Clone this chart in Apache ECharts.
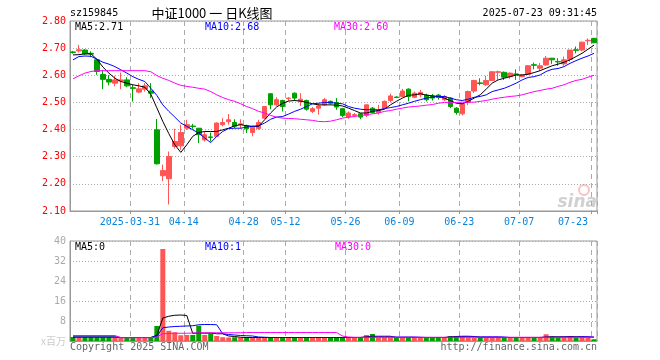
<!DOCTYPE html>
<html>
<head>
<meta charset="utf-8">
<script src="https://cdn.jsdelivr.net/npm/echarts@6/dist/echarts.min.js"></script>
<style>
html,body{margin:0;padding:0;background:#fff;}
#c{width:660px;height:360px;}
</style>
</head>
<body>
<div id="c"></div>
<script>
// ---- data ----
const dates = ['2025-03-17','2025-03-18','2025-03-19','2025-03-20','2025-03-21','2025-03-24','2025-03-25','2025-03-26','2025-03-27','2025-03-28',
'2025-03-31','2025-04-01','2025-04-02','2025-04-03','2025-04-07','2025-04-08','2025-04-09','2025-04-10','2025-04-11','2025-04-14',
'2025-04-15','2025-04-16','2025-04-17','2025-04-18','2025-04-21','2025-04-22','2025-04-23','2025-04-24','2025-04-25','2025-04-28',
'2025-04-29','2025-04-30','2025-05-06','2025-05-07','2025-05-08','2025-05-09','2025-05-12','2025-05-13','2025-05-14','2025-05-15',
'2025-05-16','2025-05-19','2025-05-20','2025-05-21','2025-05-22','2025-05-23','2025-05-26','2025-05-27','2025-05-28','2025-05-29',
'2025-05-30','2025-06-03','2025-06-04','2025-06-05','2025-06-06','2025-06-09','2025-06-10','2025-06-11','2025-06-12','2025-06-13',
'2025-06-16','2025-06-17','2025-06-18','2025-06-19','2025-06-20','2025-06-23','2025-06-24','2025-06-25','2025-06-26','2025-06-27',
'2025-06-30','2025-07-01','2025-07-02','2025-07-03','2025-07-04','2025-07-07','2025-07-08','2025-07-09','2025-07-10','2025-07-11',
'2025-07-14','2025-07-15','2025-07-16','2025-07-17','2025-07-18','2025-07-21','2025-07-22','2025-07-23'];

const tickDates  = ['2025-03-31','2025-04-14','2025-04-28','2025-05-12','2025-05-26','2025-06-09','2025-06-23','2025-07-07','2025-07-23'];
const tickLabels = ['2025-03-31','04-14','04-28','05-12','05-26','06-09','06-23','07-07','07-23'];

const opens = [2.686,2.690,2.693,2.681,2.657,2.603,2.585,2.571,2.579,2.583,
2.554,2.538,2.549,2.542,2.399,2.230,2.219,2.338,2.340,2.405,
2.413,2.405,2.362,2.373,2.375,2.418,2.429,2.426,2.418,2.414,
2.389,2.404,2.442,2.532,2.491,2.507,2.514,2.534,2.504,2.507,
2.467,2.479,2.491,2.504,2.500,2.477,2.446,2.452,2.458,2.452,
2.479,2.463,2.479,2.507,2.520,2.522,2.549,2.519,2.528,2.527,
2.524,2.527,2.510,2.516,2.479,2.458,2.500,2.542,2.572,2.565,
2.581,2.611,2.611,2.595,2.605,2.595,2.604,2.639,2.626,2.638,
2.663,2.651,2.642,2.659,2.694,2.693,2.727,2.736];
const closes = [2.684,2.694,2.679,2.678,2.614,2.585,2.575,2.583,2.583,2.561,
2.552,2.550,2.561,2.534,2.274,2.249,2.301,2.356,2.389,2.418,
2.411,2.381,2.381,2.371,2.424,2.426,2.436,2.412,2.421,2.403,
2.409,2.426,2.485,2.491,2.510,2.485,2.516,2.516,2.512,2.475,
2.477,2.487,2.510,2.497,2.483,2.452,2.461,2.455,2.446,2.491,
2.463,2.470,2.504,2.524,2.518,2.542,2.522,2.534,2.537,2.510,
2.516,2.518,2.522,2.485,2.463,2.495,2.540,2.581,2.570,2.581,
2.613,2.613,2.593,2.608,2.603,2.601,2.635,2.637,2.635,2.663,
2.657,2.649,2.657,2.693,2.692,2.722,2.729,2.720];
const lows = [2.680,2.684,2.675,2.667,2.602,2.549,2.563,2.559,2.549,2.556,
2.503,2.534,2.540,2.516,2.271,2.210,2.124,2.330,2.326,2.399,
2.403,2.350,2.356,2.356,2.372,2.412,2.418,2.405,2.403,2.387,
2.375,2.399,2.440,2.475,2.487,2.467,2.505,2.505,2.487,2.470,
2.461,2.455,2.487,2.492,2.473,2.446,2.440,2.446,2.438,2.446,
2.458,2.455,2.477,2.500,2.516,2.519,2.504,2.516,2.519,2.504,
2.507,2.510,2.505,2.479,2.455,2.452,2.490,2.535,2.563,2.561,
2.579,2.583,2.583,2.587,2.583,2.593,2.601,2.622,2.617,2.635,
2.642,2.635,2.635,2.650,2.681,2.688,2.712,2.718];
const highs = [2.690,2.712,2.696,2.688,2.659,2.620,2.601,2.598,2.610,2.593,
2.565,2.571,2.571,2.571,2.439,2.271,2.319,2.403,2.418,2.436,
2.421,2.405,2.393,2.389,2.426,2.442,2.457,2.438,2.438,2.418,
2.414,2.436,2.487,2.534,2.519,2.510,2.519,2.537,2.534,2.510,
2.483,2.497,2.516,2.507,2.516,2.479,2.467,2.461,2.461,2.492,
2.483,2.491,2.507,2.532,2.522,2.550,2.552,2.540,2.546,2.532,
2.531,2.531,2.527,2.519,2.483,2.497,2.544,2.583,2.589,2.598,
2.615,2.617,2.614,2.610,2.622,2.604,2.638,2.647,2.645,2.671,
2.663,2.663,2.669,2.693,2.706,2.724,2.736,2.738];

const ma5 = [2.675,2.676,2.679,2.679,2.659,2.630,2.608,2.589,2.577,2.571,
2.565,2.561,2.556,2.530,2.480,2.430,2.385,2.344,2.316,2.344,
2.375,2.389,2.393,2.393,2.393,2.399,2.405,2.414,2.418,2.414,
2.412,2.412,2.436,2.461,2.483,2.497,2.505,2.507,2.505,2.500,
2.495,2.491,2.491,2.491,2.490,2.487,2.479,2.470,2.461,2.461,
2.467,2.470,2.475,2.491,2.504,2.516,2.526,2.528,2.532,2.527,
2.524,2.522,2.516,2.507,2.497,2.495,2.504,2.516,2.528,2.549,
2.571,2.583,2.589,2.595,2.601,2.601,2.604,2.610,2.617,2.626,
2.635,2.641,2.648,2.657,2.669,2.681,2.696,2.711];
const ma10 = [2.657,2.669,2.671,2.670,2.659,2.648,2.641,2.632,2.620,2.608,
2.595,2.585,2.577,2.552,2.526,2.491,2.467,2.446,2.424,2.412,
2.399,2.387,2.369,2.352,2.375,2.393,2.404,2.405,2.405,2.409,
2.412,2.414,2.424,2.438,2.446,2.448,2.457,2.467,2.475,2.485,
2.495,2.497,2.500,2.500,2.497,2.495,2.485,2.479,2.475,2.473,
2.473,2.473,2.477,2.481,2.485,2.491,2.497,2.504,2.510,2.516,
2.519,2.522,2.522,2.516,2.510,2.507,2.512,2.519,2.522,2.528,
2.540,2.546,2.552,2.561,2.571,2.583,2.592,2.595,2.601,2.614,
2.622,2.625,2.632,2.644,2.654,2.663,2.671,2.681];
const ma30 = [2.587,2.598,2.608,2.614,2.617,2.617,2.617,2.617,2.617,2.617,
2.617,2.617,2.617,2.613,2.599,2.589,2.581,2.571,2.563,2.559,
2.556,2.552,2.549,2.540,2.528,2.518,2.510,2.504,2.495,2.485,
2.477,2.467,2.461,2.452,2.446,2.442,2.441,2.440,2.438,2.436,
2.434,2.430,2.429,2.431,2.436,2.442,2.446,2.448,2.452,2.455,
2.458,2.461,2.467,2.470,2.475,2.479,2.483,2.485,2.487,2.490,
2.492,2.497,2.500,2.500,2.500,2.501,2.501,2.501,2.504,2.507,
2.512,2.516,2.519,2.522,2.524,2.528,2.534,2.540,2.544,2.549,
2.552,2.559,2.565,2.574,2.581,2.585,2.593,2.600];

const volumes = [1.6,1.5,1.5,1.5,1.5,1.5,1.5,1.4,1.4,1.4,
1.3,1.3,1.3,1.4,6.0,36.8,4.1,3.5,2.3,2.4,
2.4,6.1,2.4,3.0,2.0,1.5,1.4,1.5,1.4,1.5,
1.4,1.3,1.4,1.5,1.4,1.3,1.4,1.3,1.4,1.3,
1.3,1.4,1.3,1.3,1.4,1.3,1.3,1.4,1.3,2.4,
2.8,1.3,1.4,1.3,1.3,1.4,1.3,1.3,1.4,1.3,
1.3,1.4,1.3,2.0,2.0,2.0,1.4,1.3,1.3,1.4,
1.3,1.3,1.4,1.3,1.3,1.4,1.3,1.3,1.4,2.7,
1.9,1.3,1.4,1.9,1.3,1.9,1.3,0.7];
const vma5 = [1.6,1.6,1.6,1.6,1.6,1.6,1.6,1.6,1.4,1.4,
1.4,1.4,1.4,1.4,2.3,9.2,9.9,10.3,10.4,10.2,
3.0,3.3,3.1,3.2,2.9,2.9,2.0,1.8,1.5,1.4,
1.4,1.4,1.4,1.4,1.4,1.4,1.4,1.4,1.4,1.4,
1.4,1.4,1.4,1.4,1.4,1.4,1.4,1.4,1.4,1.7,
1.9,1.9,1.9,1.9,1.4,1.4,1.4,1.4,1.4,1.4,
1.4,1.4,1.4,1.6,1.8,1.9,1.9,1.8,1.4,1.4,
1.4,1.4,1.4,1.4,1.4,1.4,1.4,1.4,1.4,1.6,
1.7,1.7,1.7,1.8,1.7,1.7,1.6,1.4];
const vma10 = [1.6,1.6,1.6,1.6,1.6,1.6,1.6,1.6,1.4,1.4,
1.4,1.4,1.4,1.4,1.9,5.3,5.6,5.8,5.9,6.0,
6.1,6.5,6.6,6.6,6.5,2.9,2.6,2.4,2.2,2.1,
2.0,1.6,1.5,1.4,1.4,1.4,1.4,1.4,1.4,1.4,
1.4,1.4,1.4,1.4,1.4,1.4,1.4,1.4,1.4,1.5,
1.6,1.6,1.6,1.6,1.6,1.6,1.6,1.6,1.5,1.4,
1.4,1.4,1.4,1.5,1.6,1.7,1.7,1.7,1.7,1.7,
1.7,1.7,1.6,1.4,1.4,1.4,1.4,1.4,1.4,1.5,
1.5,1.5,1.6,1.6,1.6,1.7,1.7,1.6];
const vma30 = [2.2,2.2,2.2,2.2,2.2,2.2,2.2,2.2,1.3,1.3,
1.3,1.3,1.3,1.3,1.6,2.9,3.0,3.1,3.1,3.1,
3.2,3.3,3.3,3.3,3.3,3.3,3.3,3.3,3.3,3.4,
3.4,3.4,3.4,3.4,3.4,3.4,3.4,3.4,3.4,3.4,
3.4,3.4,3.4,3.4,3.4,2.0,1.6,1.5,1.5,1.5,
1.5,1.5,1.5,1.5,1.5,1.5,1.5,1.5,1.5,1.5,
1.5,1.5,1.5,1.5,1.5,1.5,1.5,1.5,1.5,1.5,
1.5,1.5,1.5,1.5,1.5,1.5,1.5,1.5,1.5,1.5,
1.5,1.5,1.5,1.5,1.5,1.5,1.5,1.5];

// ---- chart ----
const RED = '#ff5555', GREEN = '#00a000';
const MONO = '"DejaVu Sans Mono", "Liberation Mono", monospace';
const candles = dates.map((d, i) => [opens[i], closes[i], lows[i], highs[i]]);
const volData = volumes.map((v, i) => ({value: v, itemStyle: {color: closes[i] >= opens[i] ? RED : GREEN}}));
const isTick = (idx, val) => tickDates.indexOf(val) >= 0;
const grids = [
  {left: 70, top: 21, width: 527, height: 190},
  {left: 70, top: 241, width: 527, height: 100}
];
const chart = echarts.init(document.getElementById('c'), null, {renderer: 'canvas'});

function xAx(gi, showLabel) {
  return {
    type: 'category', gridIndex: gi, data: dates, boundaryGap: true,
    axisLine: {show: true, lineStyle: {color: '#999', width: 1}},
    axisTick: {show: showLabel, interval: isTick, length: 3, lineStyle: {color: '#999'}},
    axisLabel: {
      show: showLabel, interval: isTick, color: '#0a84dc', fontFamily: MONO, fontSize: 10, margin: 6,
      padding: [0, 6, 0, 0], alignMaxLabel: 'right',
      formatter: v => { const k = tickDates.indexOf(v); return k >= 0 ? tickLabels[k] : ''; }
    },
    splitLine: {show: true, interval: isTick, lineStyle: {color: '#aaa', type: [5, 4], width: 1}}
  };
}

const option = {
  animation: false,
  backgroundColor: '#fff',
  grid: grids.map(g => Object.assign({show: true, borderColor: '#999', borderWidth: 1, backgroundColor: 'transparent'}, g)),
  xAxis: [xAx(0, true), xAx(1, false)],
  yAxis: [
    {type: 'value', gridIndex: 0, min: 2.1, max: 2.8, interval: 0.1, scale: true,
     axisLine: {show: true, lineStyle: {color: '#999'}}, axisTick: {show: false},
     axisLabel: {color: '#f00', fontFamily: MONO, fontSize: 10, margin: 4, formatter: v => v.toFixed(2)},
     splitLine: {show: true, lineStyle: {color: '#aaa', type: [1, 2], width: 1}}},
    {type: 'value', gridIndex: 1, min: 0, max: 40, interval: 8,
     axisLine: {show: true, lineStyle: {color: '#999'}}, axisTick: {show: false},
     axisLabel: {color: '#aaa', fontFamily: MONO, fontSize: 10, margin: 4,
       formatter: v => v === 0 ? '{u|x百万}' : String(v),
       rich: {u: {color: '#ccc', fontFamily: '"Noto Sans CJK SC", sans-serif', fontSize: 10}}},
     splitLine: {show: true, lineStyle: {color: '#aaa', type: [1, 2], width: 1}}}
  ],
  series: [
    {type: 'candlestick', xAxisIndex: 0, yAxisIndex: 0, data: candles, barWidth: 5,
     itemStyle: {color: RED, color0: GREEN, borderColor: RED, borderColor0: GREEN, borderWidth: 1}},
    {type: 'line', data: ma5, xAxisIndex: 0, yAxisIndex: 0, symbol: 'none', lineStyle: {color: '#000', width: 1}},
    {type: 'line', data: ma10, xAxisIndex: 0, yAxisIndex: 0, symbol: 'none', lineStyle: {color: '#0000ff', width: 1}},
    {type: 'line', data: ma30, xAxisIndex: 0, yAxisIndex: 0, symbol: 'none', lineStyle: {color: '#ff00ff', width: 1}},
    {type: 'bar', data: volData, xAxisIndex: 1, yAxisIndex: 1, barWidth: 5},
    {type: 'line', data: vma5, xAxisIndex: 1, yAxisIndex: 1, symbol: 'none', lineStyle: {color: '#000', width: 1}},
    {type: 'line', data: vma10, xAxisIndex: 1, yAxisIndex: 1, symbol: 'none', lineStyle: {color: '#0000ff', width: 1}},
    {type: 'line', data: vma30, xAxisIndex: 1, yAxisIndex: 1, symbol: 'none', lineStyle: {color: '#ff00ff', width: 1}}
  ],
  graphic: [
    {type: 'text', style: {text: 'sz159845', x: 70, y: 13, fill: '#000', font: '10px ' + MONO, textVerticalAlign: 'middle'}},
    {type: 'text', style: {text: '中证1000 一 日K线图', x: 212, y: 13, fill: '#000', font: '13px "Noto Sans CJK SC", sans-serif', textAlign: 'center', textVerticalAlign: 'middle'}},
    {type: 'text', style: {text: '2025-07-23 09:31:45', x: 597, y: 13, fill: '#000', font: '10px ' + MONO, textAlign: 'right', textVerticalAlign: 'middle'}},
    {type: 'text', style: {text: 'MA5:2.71', x: 75, y: 27, fill: '#000', font: '10px ' + MONO, textVerticalAlign: 'middle'}},
    {type: 'text', style: {text: 'MA10:2.68', x: 205, y: 27, fill: '#0000ff', font: '10px ' + MONO, textVerticalAlign: 'middle'}},
    {type: 'text', style: {text: 'MA30:2.60', x: 334, y: 27, fill: '#ff00ff', font: '10px ' + MONO, textVerticalAlign: 'middle'}},
    {type: 'text', style: {text: 'MA5:0', x: 75, y: 247, fill: '#000', font: '10px ' + MONO, textVerticalAlign: 'middle'}},
    {type: 'text', style: {text: 'MA10:1', x: 205, y: 247, fill: '#0000ff', font: '10px ' + MONO, textVerticalAlign: 'middle'}},
    {type: 'text', style: {text: 'MA30:0', x: 335, y: 247, fill: '#ff00ff', font: '10px ' + MONO, textVerticalAlign: 'middle'}},
    {type: 'text', style: {text: 'Copyright 2025 SINA.COM', x: 70, y: 347, fill: '#666', font: '10px ' + MONO, textVerticalAlign: 'middle'}},
    {type: 'text', style: {text: 'http://finance.sina.com.cn', x: 597, y: 347, fill: '#666', font: '10px ' + MONO, textAlign: 'right', textVerticalAlign: 'middle'}},
    {type: 'circle', shape: {cx: 584, cy: 190, r: 5}, style: {fill: 'none', stroke: 'rgba(240,120,120,0.45)', lineWidth: 2}},
    {type: 'text', style: {text: 'sina', x: 597, y: 203, fill: 'rgba(150,150,150,0.45)', font: 'italic bold 17px "DejaVu Sans", sans-serif', textAlign: 'right', textVerticalAlign: 'middle'}}
  ]
};
chart.setOption(option);
</script>
</body>
</html>
